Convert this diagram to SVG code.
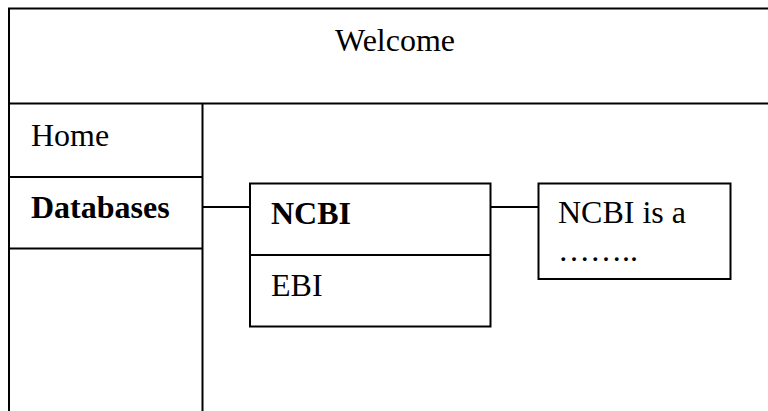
<svg xmlns="http://www.w3.org/2000/svg" width="768" height="411" viewBox="0 0 768 411">
<style>
.ln{stroke:#000;stroke-width:2;fill:none}
.bx{stroke:#000;stroke-width:2;fill:#fff}
.t{font-family:"Liberation Serif","Times New Roman",serif;font-size:32px;fill:#000}
.b{font-weight:bold}
</style>
<rect width="768" height="411" fill="#fff"/>
<g id="frame">
<path class="ln" d="M9,411 V8.5 H770"/>
<path class="ln" d="M9,103.5 H770"/>
<path class="ln" d="M202.5,103.5 V411"/>
<path class="ln" d="M9,177 H202.5"/>
<path class="ln" d="M9,248.5 H202.5"/>
</g>
<g id="welcome"><text class="t" x="395" y="51" text-anchor="middle">Welcome</text></g>
<g id="home"><text class="t" x="31" y="146">Home</text></g>
<g id="databases"><text class="t b" x="31" y="218">Databases</text></g>
<g id="connectors">
<path class="ln" d="M202.5,207 H250"/>
<path class="ln" d="M490.5,207 H538.5"/>
</g>
<g id="dbbox">
<rect class="bx" x="250" y="183.5" width="240.5" height="143"/>
<path class="ln" d="M250,255 H490.5"/>
<text class="t b" x="271" y="224">NCBI</text>
<text class="t" x="271" y="296">EBI</text>
</g>
<g id="info">
<rect class="bx" x="538.5" y="183.5" width="192" height="95.5"/>
<text class="t" x="558" y="223">NCBI is a</text>
<text class="t" x="558" y="261">……..</text>
</g>
</svg>
